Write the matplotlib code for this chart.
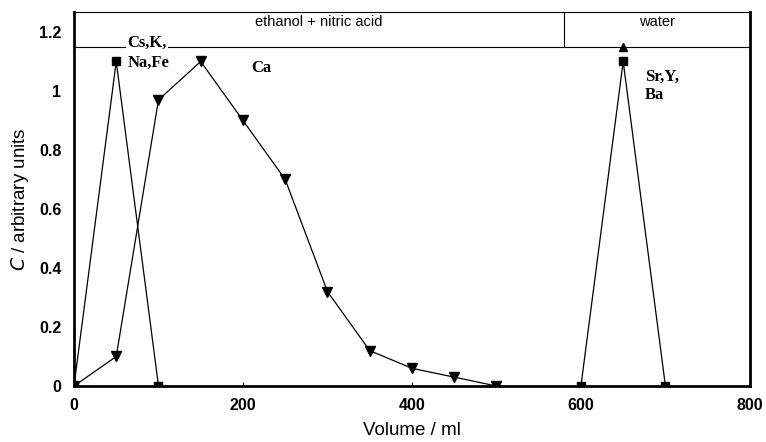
import matplotlib
matplotlib.use("Agg")
import matplotlib.pyplot as plt

sq1_x = [0, 50, 100]
sq1_y = [0, 1.1, 0]
sq2_x = [600, 650, 700]
sq2_y = [0, 1.1, 0]
tri_x = [0, 50, 100, 150, 200, 250, 300, 350, 400, 450, 500]
tri_y = [0, 0.1, 0.97, 1.1, 0.9, 0.7, 0.32, 0.12, 0.06, 0.03, 0]
tri2_x = [650]
tri2_y = [1.15]
xticks = [0, 200, 400, 600, 800]
yticks = [0, 0.2, 0.4, 0.6, 0.8, 1.0, 1.2]
ytick_labels = ["0", "0.2", "0.4", "0.6", "0.8", "1", "1.2"]
eluents = ["ethanol + nitric acid", "water"]
eluent_bounds = [0, 580, 800]

plt.rcParams['font.family'] = ['Liberation Sans', 'DejaVu Sans']
fig = plt.figure(figsize=(7.66, 4.42), dpi=100)
ax = fig.add_axes([0.0966, 0.1267, 0.979 - 0.0966, 0.973 - 0.1267])

ax.plot(tri_x, tri_y, color='black', lw=0.9, marker='v', ms=6.5, zorder=3)
ax.plot(sq1_x, sq1_y, color='black', lw=0.9, marker='s', ms=6, zorder=3)
ax.plot(sq2_x, sq2_y, color='black', lw=0.9, marker='s', ms=6, zorder=3)
ax.plot(tri2_x, tri2_y, color='black', lw=0, marker='^', ms=6, zorder=3, clip_on=False)

ax.set_xlim(0, 800)
ax.set_ylim(0, 1.268)
ax.set_xticks(xticks)
ax.set_yticks(yticks)
ax.set_yticklabels(ytick_labels)
ax.tick_params(axis='both', labelsize=11.5, length=3, width=0.8)
ax.tick_params(axis='x', direction='in', pad=9)
ax.tick_params(axis='y', direction='in', length=0, pad=9)
for lab in ax.get_xticklabels() + ax.get_yticklabels():
    lab.set_fontweight('bold')

for s in ['left', 'right', 'bottom']:
    ax.spines[s].set_linewidth(2.0)
ax.spines['top'].set_linewidth(0.8)

# eluent box
ax.axhline(1.15, color='black', lw=0.8, zorder=2)
ax.plot([eluent_bounds[1]] * 2, [1.15, 1.268], color='black', lw=0.8)
for i, name in enumerate(eluents):
    xc = (eluent_bounds[i] + eluent_bounds[i + 1]) / 2
    ax.text(xc, 1.258, name, ha='center', va='top', fontsize=10.5)

bold_serif = dict(family=['Liberation Serif', 'DejaVu Serif'], fontweight='bold', fontsize=12)
ax.text(63, 1.163, "Cs,K,", va='center', ha='left', zorder=4,
        bbox=dict(facecolor='white', edgecolor='none', pad=1), **bold_serif)
ax.text(63, 1.095, "Na,Fe", va='center', ha='left', **bold_serif)
ax.text(210, 1.078, "Ca", va='center', ha='left', **bold_serif)
ax.text(676, 1.047, "Sr,Y,", va='center', ha='left', **bold_serif)
ax.text(676, 0.986, "Ba", va='center', ha='left', **bold_serif)

ax.set_xlabel("Volume / ml", fontsize=13.5, labelpad=6)
ax.set_ylabel(r"$C$ / arbitrary units", fontsize=13.5, labelpad=6)

fig.savefig("out.png", dpi=100)
